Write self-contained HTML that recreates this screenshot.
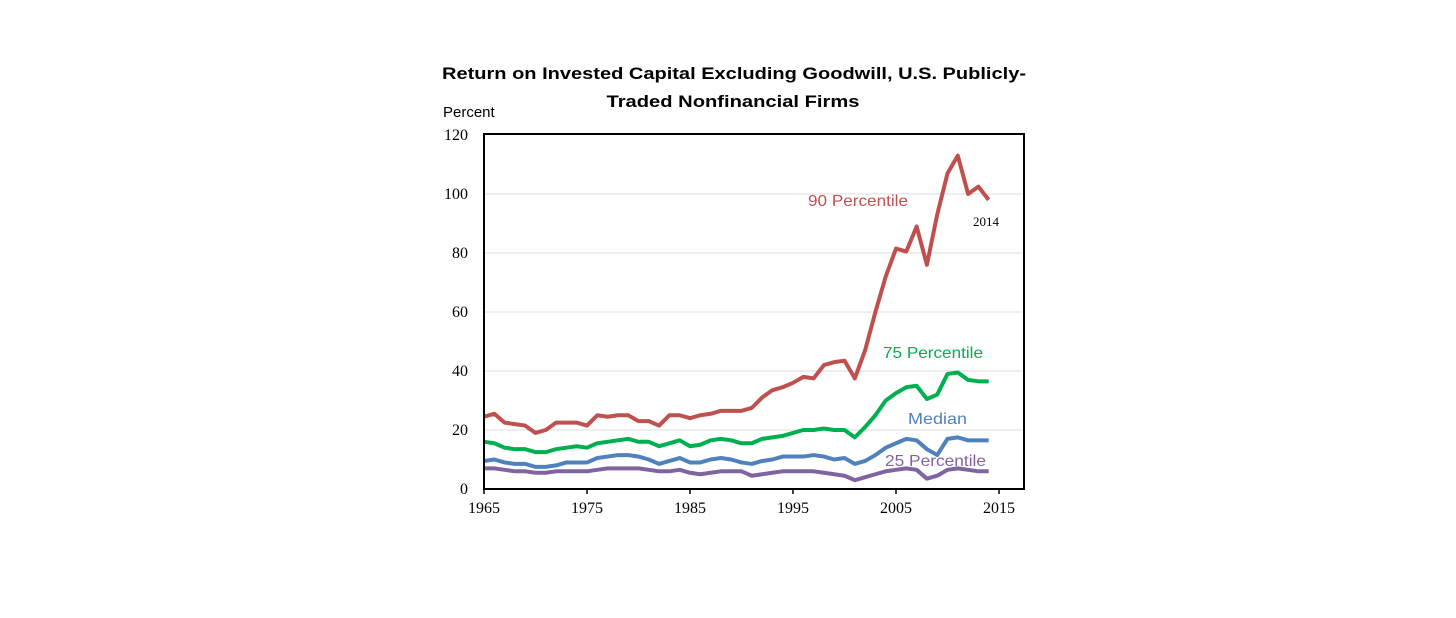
<!DOCTYPE html>
<html><head><meta charset="utf-8"><style>
html,body{margin:0;padding:0;background:#fff;width:1456px;height:618px;overflow:hidden}
svg{display:block}
</style></head><body>
<svg id="chart" width="1456" height="618">
<g font-family="Liberation Sans, sans-serif" font-weight="bold" font-size="17" fill="#000" text-anchor="middle">
<text x="734" y="79" textLength="584" lengthAdjust="spacingAndGlyphs">Return on Invested Capital Excluding Goodwill, U.S. Publicly-</text>
<text x="733" y="107" textLength="253" lengthAdjust="spacingAndGlyphs">Traded Nonfinancial Firms</text>
</g>
<text x="443" y="117" font-family="Liberation Sans, sans-serif" font-size="15" fill="#000">Percent</text>
<g id="grid"></g><g id="ticks"></g><g id="lines"></g>
<rect x="484" y="134" width="540" height="355" fill="none" stroke="#000" stroke-width="2"/>
<g font-family="Liberation Sans, sans-serif" font-size="16">
<text x="808" y="206" fill="#c0504d" textLength="100" lengthAdjust="spacingAndGlyphs">90 Percentile</text>
<text x="883" y="358" fill="#00b050" textLength="100" lengthAdjust="spacingAndGlyphs">75 Percentile</text>
<text x="908" y="424" fill="#4f81bd" textLength="59" lengthAdjust="spacingAndGlyphs">Median</text>
<text x="885" y="466" fill="#8064a2" textLength="101" lengthAdjust="spacingAndGlyphs">25 Percentile</text>
<text x="973" y="226" fill="#000" font-size="13" font-family="Liberation Serif, serif">2014</text>
</g>
</svg>
<script>
const years=[];for(let y=1965;y<=2014;y++)years.push(y);
const p90=[24.5,25.5,22.5,22,21.5,19,20,22.5,22.5,22.5,21.5,25,24.5,25,25,23,23,21.5,25,25,24,25,25.5,26.5,26.5,26.5,27.5,31,33.5,34.5,36,38,37.5,42,43,43.5,37.5,47,60,72,81.5,80.5,89,76,93,107,113,100,102.5,98];
const p75=[16,15.5,14,13.5,13.5,12.5,12.5,13.5,14,14.5,14,15.5,16,16.5,17,16,16,14.5,15.5,16.5,14.5,15,16.5,17,16.5,15.5,15.5,17,17.5,18,19,20,20,20.5,20,20,17.5,21,25,30,32.5,34.5,35,30.5,32,39,39.5,37,36.5,36.5];
const med=[9.5,10,9,8.5,8.5,7.5,7.5,8,9,9,9,10.5,11,11.5,11.5,11,10,8.5,9.5,10.5,9,9,10,10.5,10,9,8.5,9.5,10,11,11,11,11.5,11,10,10.5,8.5,9.5,11.5,14,15.5,17,16.5,13.5,11.5,17,17.5,16.5,16.5,16.5];
const p25=[7,7,6.5,6,6,5.5,5.5,6,6,6,6,6.5,7,7,7,7,6.5,6,6,6.5,5.5,5,5.5,6,6,6,4.5,5,5.5,6,6,6,6,5.5,5,4.5,3,4,5,6,6.5,7,6.5,3.5,4.5,6.5,7,6.5,6,6];
const yTicks=[0,20,40,60,80,100,120];
const xTicks=[1965,1975,1985,1995,2005,2015];
const NS='http://www.w3.org/2000/svg';
const X=y=>484+(y-1965)*10.3;
const Y=v=>489-v*(354/120);
const grid=document.getElementById('grid'),ticks=document.getElementById('ticks'),lines=document.getElementById('lines');
yTicks.forEach(v=>{
 if(v>0&&v<120){const l=document.createElementNS(NS,'line');
 
 
 l.setAttribute('x1',485);l.setAttribute('x2',1023);l.setAttribute('y1',Y(v));l.setAttribute('y2',Y(v));
 l.setAttribute('stroke','#e8e8e8');l.setAttribute('stroke-width','1.5');grid.appendChild(l);}
 const t=document.createElementNS(NS,'text');
 
 
 t.setAttribute('x',468);t.setAttribute('y',Y(v)+5);t.setAttribute('text-anchor','end');
 t.setAttribute('font-family','Liberation Serif, serif');t.setAttribute('font-size','16');
 t.textContent=v;ticks.appendChild(t);
});
xTicks.forEach(v=>{
 const t=document.createElementNS(NS,'text');
 
 
 t.setAttribute('x',X(v));t.setAttribute('y',513);t.setAttribute('text-anchor','middle');
 t.setAttribute('font-family','Liberation Serif, serif');t.setAttribute('font-size','16');
 t.textContent=v;ticks.appendChild(t);
 const m=document.createElementNS(NS,'line');
 
 
 m.setAttribute('x1',X(v));m.setAttribute('x2',X(v));m.setAttribute('y1',489);m.setAttribute('y2',494);
 m.setAttribute('stroke','#000');m.setAttribute('stroke-width','1.5');ticks.appendChild(m);
});
[[p90,'#c0504d','line-90-percentile'],[p75,'#00b050','line-75-percentile'],[med,'#4f81bd','line-median'],[p25,'#8064a2','line-25-percentile']].forEach(([d,c,n])=>{
 const p=document.createElementNS(NS,'polyline');
 
 
 p.setAttribute('points',d.map((v,i)=>X(years[i])+','+Y(v)).join(' '));
 p.setAttribute('fill','none');p.setAttribute('stroke',c);p.setAttribute('stroke-width','4');
 p.setAttribute('stroke-linejoin','round');lines.appendChild(p);
});
</script>
</body></html>
